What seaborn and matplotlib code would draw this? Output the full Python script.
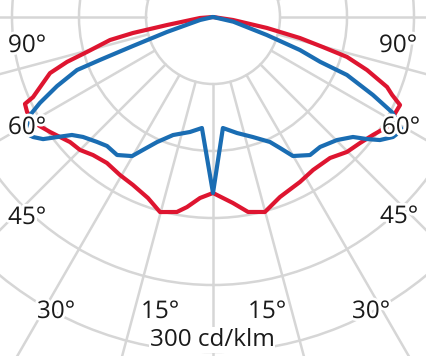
import numpy as np
import pandas as pd
import matplotlib
matplotlib.use("Agg")
import matplotlib.pyplot as plt
import matplotlib.patheffects as pe
import seaborn as sns

# ---- data (angle in degrees from nadir, intensity in cd/klm) ----
red_angles = [-90, -85.6, -80.1, -79.2, -78.7, -77.4, -74.5, -72.9, -71.0, -66.0,
              -65.2, -62.9, -58.3, -54.8, -48.8, -45.0, -41.0, -36.0, -30.5, -25.5,
              -19.8, -15.2, -10.5, -7.8, -4.1, 0, 6.1, 10.2, 14.9, 20.4,
              27.8, 33.2, 39.7, 44.8, 49.4, 53.6, 57.7, 64.8, 66.5, 68.1,
              71.0, 73.4, 74.7, 76.4, 78.5, 81.5, 90]
red_values = [0, 11.7, 41.8, 57.4, 73.1, 94.5, 117.1, 136.8, 154.4, 176.4,
              185.5, 187.0, 184.2, 178.6, 170.1, 168.4, 163.8, 161.6, 164.2, 166.6,
              172.2, 181.0, 177.6, 171.8, 162.5, 157.6, 167.5, 177.4, 180.7, 172.0,
              167.0, 163.7, 164.1, 170.3, 173.4, 178.0, 184.3, 185.1, 174.9, 168.0,
              145.9, 125.2, 102.1, 80.1, 49.3, 18.1, 0]

blue_angles = [-90, -77.0, -72.0, -70.1, -69.2, -68.7, -66.1, -63.6, -61.8, -58.5,
               -56.3, -54.3, -52.4, -50.1, -47.3, -42.9, -39.4, -34.8, -30.2, -27.8,
               -24.1, -18.7, -11.3, -5.7, 0, 5.1, 11.7, 18.4, 24.5, 27.1,
               29.9, 35.1, 39.5, 45.2, 49.4, 51.6, 53.6, 56.3, 59.1, 62.0,
               64.0, 66.6, 67.3, 69.2, 71.5, 77.0, 90]
blue_values = [0, 11.9, 43.3, 76.2, 108.3, 130.7, 152.8, 173.0, 185.9, 198.0,
               193.7, 187.4, 176.2, 164.7, 158.4, 152.7, 149.5, 150.5, 144.1, 134.6,
               122.7, 111.6, 105.0, 99.9, 157.6, 99.8, 106.1, 113.3, 123.0, 131.8,
               143.6, 151.1, 150.8, 156.4, 165.1, 176.0, 185.7, 193.7, 197.2, 181.5,
               159.4, 130.7, 104.0, 83.3, 50.7, 18.7, 0]

ring_values = [60, 120, 180, 240, 300, 360]
ray_angles = list(range(0, 360, 15))
angle_labels = ["90°", "60°", "45°", "30°", "15°"]
unit_label = "300 cd/klm"

# ---- styling ----
sns.set_style("white")
plt.rcParams["font.family"] = ["Open Sans", "DejaVu Sans"]

RED = "#DE1530"
BLUE = "#1A6DB3"
GRID = "#D6D6D6"

W, H = 427, 356
fig = plt.figure(figsize=(W / 100, H / 100), dpi=100)

cx, cy = 213, 17          # pixel position of the pole (from top-left)
R = 402                   # pixels for r = 360
ax = fig.add_axes([(cx - R) / W, (H - cy - R) / H, 2 * R / W, 2 * R / H],
                  projection="polar")
ax.set_theta_zero_location("S")
ax.set_theta_direction(1)
ax.set_ylim(0, 360)
ax.set_yticks(ring_values)
ax.set_yticklabels([])
ax.set_xticks([])
ax.yaxis.grid(True, color=GRID, linewidth=1.8)
ax.xaxis.grid(False)
ax.spines["polar"].set_visible(False)
ax.set_facecolor("white")

for a in ray_angles:
    ax.plot([np.deg2rad(a)] * 2, [60, 360], color=GRID, linewidth=1.8, zorder=1)

df = pd.concat([
    pd.DataFrame({"theta": np.deg2rad(red_angles), "I": red_values, "plane": "C0"}),
    pd.DataFrame({"theta": np.deg2rad(blue_angles), "I": blue_values, "plane": "C90"}),
], ignore_index=True)

sns.lineplot(data=df, x="theta", y="I", hue="plane", palette={"C0": RED, "C90": BLUE},
             estimator=None, sort=False, legend=False, linewidth=3.0, ax=ax, zorder=3)
ax.set_xlabel("")
ax.set_ylabel("")
ax.set_ylim(0, 360)

stroke = [pe.withStroke(linewidth=4, foreground="white")]
label_pos = {
    "90°": [(27, 52), (398, 52)],
    "60°": [(27, 134), (401, 134)],
    "45°": [(27, 224), (399, 223)],
    "30°": [(56, 318), (371, 318)],
    "15°": [(160, 318), (267, 318)],
}
for lab in angle_labels:
    for (px, py) in label_pos[lab]:
        fig.text(px / W, 1 - py / H, lab, ha="center", va="baseline",
                 fontsize=17.5, color="#1a1a1a", path_effects=stroke, zorder=10)

fig.text(212 / W, 1 - 346 / H, unit_label, ha="center", va="baseline",
         fontsize=17.5, color="#1a1a1a", zorder=10,
         bbox=dict(facecolor="white", edgecolor="none", pad=0.5))

fig.savefig("out.png", dpi=100)
